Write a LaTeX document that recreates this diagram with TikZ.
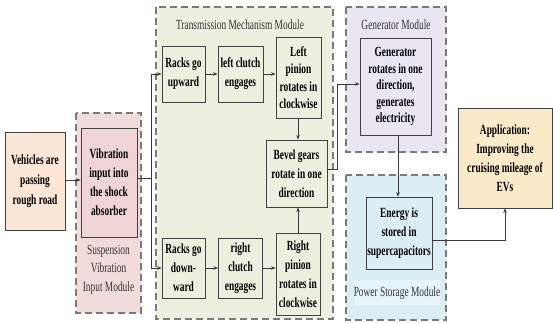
\documentclass[tikz,border=0pt]{standalone}
\usepackage{fontspec}
\setmainfont{Liberation Serif}[FakeStretch=0.67]
\usetikzlibrary{arrows.meta}
\definecolor{vehfill}{HTML}{FCE6D6}
\definecolor{susfill}{HTML}{F2DCDB}
\definecolor{vibfill}{HTML}{EFD5D5}
\definecolor{trfill}{HTML}{EBF1DE}
\definecolor{genfill}{HTML}{E9E6F2}
\definecolor{pwfill}{HTML}{DBEEF4}
\definecolor{pwlabel}{HTML}{E7F4F9}
\definecolor{appfill}{HTML}{FCEBC9}
\definecolor{boxline}{HTML}{404040}
\definecolor{modline}{HTML}{7A7A7A}
\definecolor{arrowcol}{HTML}{3A3A3A}
\definecolor{titlecol}{HTML}{333333}
\begin{document}
\begin{tikzpicture}[x=1pt,y=-1pt,
  stepbox/.style={draw=boxline, line width=0.9pt, align=center, inner sep=0pt,
    font=\fontsize{14}{19}\selectfont\bfseries},
  modbox/.style={draw=modline, line width=1.3pt, dash pattern=on 7pt off 4pt},
  modtitle/.style={font=\fontsize{14}{18.5}\selectfont, text=titlecol, align=center, inner sep=1pt},
  conn/.style={draw=arrowcol, line width=0.7pt, -{Stealth[length=4.5pt,width=3.6pt]}},
  plain/.style={draw=arrowcol, line width=0.7pt}]
\useasboundingbox (0,0) rectangle (553,323);
% modules
\filldraw[modbox, fill=susfill] (76,113) rectangle (141,313);
\filldraw[modbox, fill=trfill] (156,7) rectangle (333,319);
\filldraw[modbox, fill=genfill] (346,7) rectangle (446,152);
\filldraw[modbox, fill=pwfill] (346,175) rectangle (446,320);
\fill[pwlabel] (355,280) rectangle (440,305);
% module titles
\node[modtitle] (trt) at (240,25) {Transmission Mechanism Module};
\node[modtitle] (gent) at (396,25) {Generator Module};
\node[modtitle] (pwt) at (397,293) {Power Storage Module};
\node[modtitle] (sust) at (108.5,269.5) {Suspension\\Vibration\\Input Module};
% boxes
\node[stepbox, fill=vehfill, minimum width=60pt, minimum height=98pt,
  font=\fontsize{14}{20}\selectfont\bfseries] (veh) at (35,181) {Vehicles are\\passing\\rough road};
\node[stepbox, fill=vibfill, minimum width=56pt, minimum height=109pt] (vib) at (109,182.5) {Vibration\\input into\\the shock\\absorber};
\node[stepbox, fill=trfill, minimum width=43pt, minimum height=56pt] (rup) at (183.5,74) {Racks go\\upward};
\node[stepbox, fill=trfill, minimum width=45pt, minimum height=56pt] (lcl) at (240.5,74) {left clutch\\engages};
\node[stepbox, fill=trfill, minimum width=45pt, minimum height=81pt,
  font=\fontsize{14}{17.5}\selectfont\bfseries] (lpin) at (298.5,77.5) {Left\\pinion\\rotates in\\clockwise};
\node[stepbox, fill=trfill, minimum width=61pt, minimum height=67pt] (bev) at (296.5,173.5) {Bevel gears\\rotate in one\\direction};
\node[stepbox, fill=trfill, minimum width=43pt, minimum height=60pt] (rdn) at (183.5,268) {Racks go\\down-\\ward};
\node[stepbox, fill=trfill, minimum width=44pt, minimum height=60pt] (rcl) at (240.5,268) {right\\clutch\\engages};
\node[stepbox, fill=trfill, minimum width=44pt, minimum height=82pt] (rpin) at (298,274) {Right\\pinion\\rotates in\\clockwise};
\node[stepbox, fill=genfill, minimum width=71pt, minimum height=97pt,
  font=\fontsize{14}{16.5}\selectfont\bfseries] (gen) at (395.5,86.5) {Generator\\rotates in one\\direction,\\generates\\electricity};
\node[stepbox, fill=pwfill, minimum width=66pt, minimum height=72pt] (en) at (399,233) {Energy is\\stored in\\supercapacitors};
\node[stepbox, fill=appfill, minimum width=94pt, minimum height=100pt] (app) at (505,158) {Application:\\Improving the\\cruising mileage of\\EVs};
% connectors
\coordinate (y180) at (0,180);
\coordinate (x298) at (298,0);
\coordinate (x398) at (398,0);
\coordinate (j) at (151,178);
\coordinate (jt) at (151,74);
\coordinate (jb) at (151,268);
\coordinate (bg) at (337,169);
\coordinate (bgt) at (337,84);
\coordinate (ea) at (505,240);
\draw[conn] (veh.east |- y180) -- (vib.west |- y180);
\draw[plain] (vib.east |- j) -- (j);
\draw[conn] (jb) -- (jt) -- (rup.west);
\draw[conn] (jt) -- (jb) -- (rdn.west);
\draw[conn] (rup) -- (lcl);
\draw[conn] (lcl.east) -- (lpin.west |- lcl.east);
\draw[conn] (rdn) -- (rcl);
\draw[conn] (rcl.east) -- (rpin.west |- rcl.east);
\draw[conn] (x298 |- lpin.south) -- (x298 |- bev.north);
\draw[conn] (x298 |- rpin.north) -- (x298 |- bev.south);
\draw[conn] (bev.east |- bg) -- (bg) -- (bgt) -- (gen.west |- bgt);
\draw[conn] (x398 |- gen.south) -- (x398 |- en.north);
\draw[conn] (en.east |- ea) -- (ea) -- (app.south);
\end{tikzpicture}
\end{document}
